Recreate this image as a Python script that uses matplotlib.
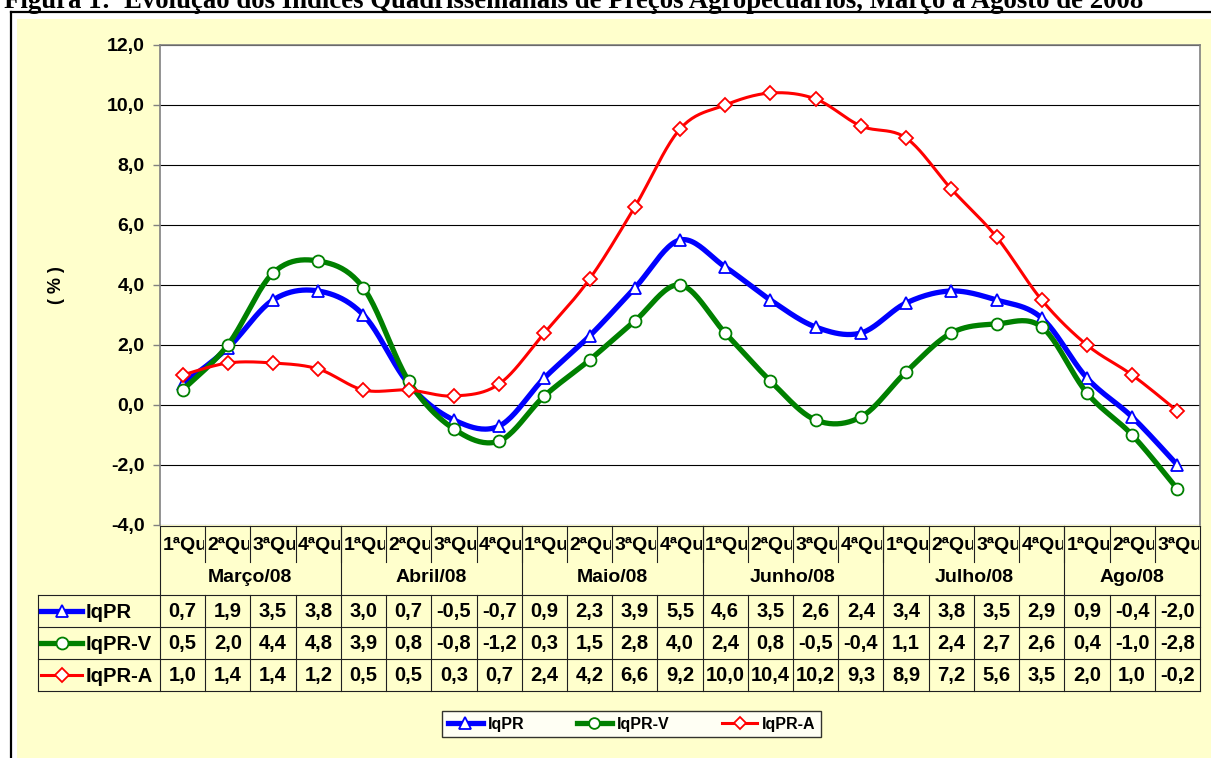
import matplotlib.pyplot as plt
import numpy as np
from matplotlib.patches import Rectangle
from matplotlib.transforms import Bbox

plt.rcParams['font.family'] = ['Liberation Sans', 'DejaVu Sans']
plt.rcParams['font.weight'] = 'bold'

# data
quarters = ['1ªQu', '2ªQu', '3ªQu', '4ªQu'] * 5 + ['1ªQu', '2ªQu', '3ªQu']
months = ['Março/08', 'Abril/08', 'Maio/08', 'Junho/08', 'Julho/08', 'Ago/08']
month_len = [4, 4, 4, 4, 4, 3]
iqpr = [0.7, 1.9, 3.5, 3.8, 3.0, 0.7, -0.5, -0.7, 0.9, 2.3, 3.9, 5.5,
        4.6, 3.5, 2.6, 2.4, 3.4, 3.8, 3.5, 2.9, 0.9, -0.4, -2.0]
iqpr_v = [0.5, 2.0, 4.4, 4.8, 3.9, 0.8, -0.8, -1.2, 0.3, 1.5, 2.8, 4.0,
          2.4, 0.8, -0.5, -0.4, 1.1, 2.4, 2.7, 2.6, 0.4, -1.0, -2.8]
iqpr_a = [1.0, 1.4, 1.4, 1.2, 0.5, 0.5, 0.3, 0.7, 2.4, 4.2, 6.6, 9.2,
          10.0, 10.4, 10.2, 9.3, 8.9, 7.2, 5.6, 3.5, 2.0, 1.0, -0.2]
names = ['IqPR', 'IqPR-V', 'IqPR-A']
colors = ['#0000FF', '#008000', '#FF0000']
markers = ['^', 'o', 'D']
series = [iqpr, iqpr_v, iqpr_a]


def smooth(y, n=24):
    # excel-like smoothed line (bezier through points)
    y = np.asarray(y, float)
    x = np.arange(len(y), dtype=float)
    px = np.concatenate([[x[0]], x, [x[-1]]])
    py = np.concatenate([[y[0]], y, [y[-1]]])
    xs, ys = [], []
    t = np.linspace(0, 1, n)
    for i in range(1, len(px) - 2):
        p0 = np.array([px[i], py[i]])
        p3 = np.array([px[i + 1], py[i + 1]])
        c1 = p0 + (np.array([px[i + 1], py[i + 1]]) - np.array([px[i - 1], py[i - 1]])) / 6
        c2 = p3 - (np.array([px[i + 2], py[i + 2]]) - np.array([px[i], py[i]])) / 6
        b = ((1 - t) ** 3)[:, None] * p0 + (3 * (1 - t) ** 2 * t)[:, None] * c1 \
            + (3 * (1 - t) * t ** 2)[:, None] * c2 + (t ** 3)[:, None] * p3
        xs.extend(b[:, 0])
        ys.extend(b[:, 1])
    return np.array(xs), np.array(ys)


W, H = 1211, 758
fig = plt.figure(figsize=(W / 100, H / 100), dpi=100)
fig.patch.set_facecolor('white')

# overlay in pixel coordinates for frame and table
bg = fig.add_axes([0, 0, 1, 1], zorder=0)
bg.set_xlim(0, W)
bg.set_ylim(H, 0)
bg.axis('off')
bg.add_patch(Rectangle((17, 19), W, H, facecolor='#FFFFCC', edgecolor='none'))
bg.plot([11, 11], [12, H], color='black', lw=1.6)
bg.plot([11, W], [12, 12], color='black', lw=1.6)
bg.text(4, 8, 'Figura 1:  Evolução dos Índices Quadrissemanais de Preços Agropecuários, Março a Agosto de 2008',
        family='Liberation Serif', fontsize=19.3, weight='bold', va='baseline', ha='left')

L, R, T, B = 160, 1200, 45, 525
ax = fig.add_axes([L / W, 1 - B / H, (R - L) / W, (B - T) / H], zorder=2)
n = len(iqpr)
x = np.arange(n)
lws = [3.8, 3.8, 2.2]
ms = [9, 8.6, 7]
for i, (s, c, m) in enumerate(zip(series, colors, markers)):
    sx, sy = smooth(s)
    ax.plot(sx, sy, color=c, lw=lws[i], zorder=3 + i, solid_capstyle='round')
    ax.plot(x, s, ls='none', marker=m, ms=ms[i], mfc='white', mec=c, mew=1.3, zorder=3 + i)

ax.set_xlim(-0.5, n - 0.5)
ax.set_ylim(-4, 12)
ax.set_yticks(np.arange(-4, 12.1, 2))
ax.set_yticklabels([f'{v:.1f}'.replace('.', ',') for v in np.arange(-4, 12.1, 2)],
                   fontsize=14, weight='bold')
ax.set_xticks([])
ax.tick_params(axis='y', length=5, width=1, color='#808080', pad=6)
ax.grid(axis='y', color='black', lw=0.8)
ax.set_axisbelow(True)
for side in ['left', 'right', 'top']:
    ax.spines[side].set_color('#808080')
    ax.spines[side].set_linewidth(1.2)
ax.spines['bottom'].set_visible(False)
ax.set_ylabel('( % )', fontsize=13, weight='bold', labelpad=30)

# data table
cw = (R - L) / n
tc = '#202020'
y0, y1 = 526, 562
rows = [595, 627, 659, 691]
bg.plot([L, R], [y0, y0], color=tc, lw=0.8)
bg.plot([L, L], [y0, rows[-1]], color=tc, lw=0.8)
bg.plot([R, R], [y0, rows[-1]], color=tc, lw=0.8)
bg.plot([38, 38], [rows[0], rows[-1]], color=tc, lw=0.8)
for r in rows:
    bg.plot([38, R], [r, r], color=tc, lw=0.8)
for i in range(1, n):
    bg.plot([L + i * cw] * 2, [y0, y1], color=tc, lw=0.8)
    bg.plot([L + i * cw] * 2, [rows[0], rows[-1]], color=tc, lw=0.8)
for i, q in enumerate(quarters):
    cx0 = L + i * cw
    t = bg.text(cx0 + 2.5, 545, q, fontsize=14, weight='bold', ha='left', va='center')
    t.set_clip_box(Bbox.from_extents(cx0, H - y1, cx0 + cw - 1, H - y0))
    t.set_clip_on(True)
pos = 0
for mname, k in zip(months, month_len):
    if pos > 0:
        bg.plot([L + pos * cw] * 2, [y0, rows[0]], color=tc, lw=0.8)
    bg.text(L + (pos + k / 2) * cw, 578, mname, fontsize=14, weight='bold', ha='center', va='center')
    pos += k
for j, (s, c, m, nm) in enumerate(zip(series, colors, markers, names)):
    yc = (rows[j] + rows[j + 1]) / 2
    bg.plot([41, 82], [yc, yc], color=c, lw=lws[j])
    bg.plot([61.5], [yc], marker=m, ms=ms[j], mfc='white', mec=c, mew=1.3)
    bg.text(86, yc + 1, nm, fontsize=14.5, weight='bold', ha='left', va='center')
    for i, v in enumerate(s):
        bg.text(L + (i + 0.5) * cw, yc + 1, f'{v:.1f}'.replace('.', ','), fontsize=14.5,
                weight='bold', ha='center', va='center')

# legend
handles = [plt.Line2D([], [], color=c, lw=lws[i], marker=markers[i], ms=ms[i] * 0.9,
                      mfc='white', mec=c, mew=1.3) for i, c in enumerate(colors)]
leg = fig.legend(handles, names, loc='center', bbox_to_anchor=(631.5 / W, 1 - 724 / H), ncol=3,
                 prop={'size': 11.5, 'weight': 'bold'}, frameon=True, fancybox=False,
                 edgecolor='black', handlelength=2.2, handletextpad=0.3, columnspacing=3.3,
                 borderpad=0.35)
leg.get_frame().set_linewidth(1)

fig.savefig('out.png', dpi=100)
